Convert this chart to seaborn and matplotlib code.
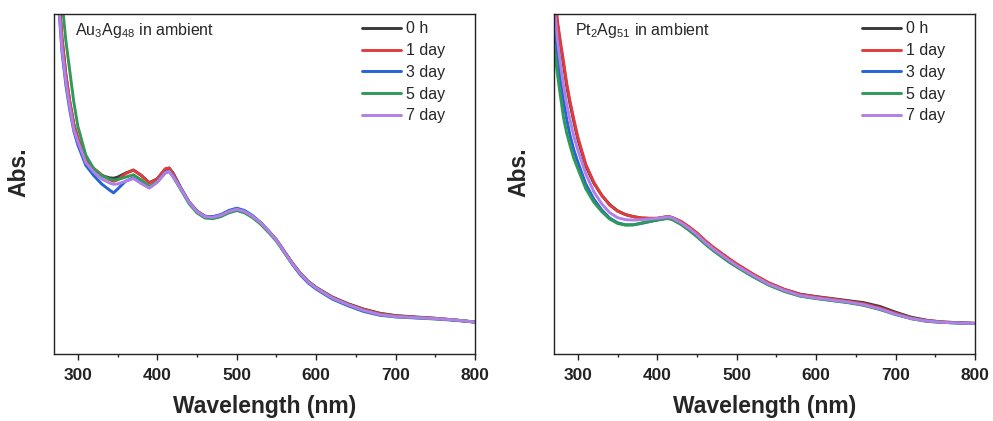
import numpy as np
import pandas as pd
import matplotlib
matplotlib.use("Agg")
import matplotlib.pyplot as plt
from matplotlib.ticker import MultipleLocator
import seaborn as sns

# ---------------- data ----------------
labels = ["0 h", "1 day", "3 day", "5 day", "7 day"]
colors = ["#3a3a3a", "#e23b3b", "#2563d9", "#2f9a58", "#b27fe6"]

wl_left = [272, 276, 280, 285, 290, 295, 300, 310, 320, 330, 340, 345, 350, 360,
           370, 380, 390, 400, 410, 415, 420, 430, 440, 450, 460, 470, 480, 490,
           500, 510, 520, 530, 540, 550, 560, 570, 580, 590, 600, 620, 640, 660,
           680, 700, 725, 750, 775, 800]

left_0h = [1.25, 1.06, 0.93, 0.82, 0.74, 0.675, 0.635, 0.572, 0.545, 0.525, 0.518, 0.517, 0.520, 0.532,
           0.541, 0.525, 0.504, 0.515, 0.543, 0.547, 0.532, 0.487, 0.447, 0.420, 0.405, 0.403, 0.409, 0.419,
           0.425, 0.418, 0.405, 0.386, 0.362, 0.336, 0.302, 0.268, 0.238, 0.214, 0.196, 0.168, 0.148, 0.132,
           0.120, 0.113, 0.109, 0.105, 0.100, 0.094]
left_1d = [1.25, 1.06, 0.93, 0.82, 0.74, 0.675, 0.635, 0.572, 0.546, 0.527, 0.513, 0.508, 0.512, 0.530,
           0.541, 0.525, 0.503, 0.515, 0.545, 0.547, 0.530, 0.487, 0.447, 0.420, 0.405, 0.403, 0.409, 0.419,
           0.425, 0.418, 0.405, 0.386, 0.362, 0.336, 0.301, 0.267, 0.237, 0.213, 0.195, 0.167, 0.147, 0.131,
           0.119, 0.112, 0.108, 0.105, 0.100, 0.094]
left_3d = [1.18, 1.02, 0.89, 0.79, 0.715, 0.655, 0.615, 0.555, 0.525, 0.500, 0.482, 0.474, 0.485, 0.508,
           0.518, 0.503, 0.489, 0.506, 0.534, 0.538, 0.523, 0.486, 0.447, 0.420, 0.405, 0.404, 0.410, 0.422,
           0.429, 0.422, 0.407, 0.387, 0.362, 0.334, 0.299, 0.264, 0.233, 0.209, 0.191, 0.162, 0.142, 0.125,
           0.114, 0.109, 0.106, 0.103, 0.099, 0.094]
left_5d = [1.40, 1.18, 1.04, 0.92, 0.83, 0.74, 0.67, 0.585, 0.545, 0.525, 0.514, 0.512, 0.513, 0.520,
           0.527, 0.512, 0.493, 0.507, 0.532, 0.537, 0.521, 0.482, 0.442, 0.415, 0.400, 0.398, 0.404, 0.415,
           0.422, 0.415, 0.401, 0.382, 0.358, 0.332, 0.298, 0.265, 0.235, 0.212, 0.194, 0.165, 0.145, 0.128,
           0.116, 0.110, 0.107, 0.104, 0.100, 0.094]
left_7d = [1.20, 1.03, 0.90, 0.80, 0.725, 0.66, 0.625, 0.563, 0.535, 0.515, 0.503, 0.499, 0.500, 0.508,
           0.516, 0.501, 0.488, 0.505, 0.533, 0.537, 0.522, 0.485, 0.446, 0.419, 0.404, 0.402, 0.408, 0.419,
           0.426, 0.419, 0.405, 0.386, 0.362, 0.335, 0.300, 0.266, 0.236, 0.212, 0.194, 0.165, 0.145, 0.128,
           0.116, 0.110, 0.107, 0.104, 0.100, 0.094]

wl_right = [270, 274, 278, 282, 286, 290, 295, 300, 310, 320, 330, 340, 350, 360, 370, 380,
            390, 400, 410, 415, 420, 430, 440, 450, 460, 470, 480, 490, 500, 520, 540, 560,
            580, 600, 620, 640, 660, 680, 700, 720, 740, 760, 780, 800]

right_0h = [1.10, 0.975, 0.91, 0.85, 0.788, 0.738, 0.683, 0.632, 0.553, 0.503, 0.467, 0.440, 0.421, 0.410, 0.404, 0.400,
            0.399, 0.399, 0.403, 0.404, 0.400, 0.389, 0.373, 0.355, 0.333, 0.314, 0.297, 0.280, 0.264, 0.235, 0.209, 0.190,
            0.176, 0.169, 0.163, 0.157, 0.151, 0.140, 0.123, 0.108, 0.099, 0.094, 0.092, 0.090]
right_1d = [1.12, 0.985, 0.92, 0.86, 0.796, 0.745, 0.69, 0.638, 0.558, 0.506, 0.467, 0.438, 0.420, 0.410, 0.404, 0.400,
            0.399, 0.399, 0.403, 0.404, 0.400, 0.390, 0.374, 0.356, 0.334, 0.315, 0.298, 0.281, 0.265, 0.236, 0.210, 0.190,
            0.175, 0.168, 0.162, 0.155, 0.148, 0.136, 0.120, 0.106, 0.098, 0.094, 0.092, 0.090]
right_3d = [0.98, 0.89, 0.81, 0.745, 0.69, 0.645, 0.60, 0.565, 0.500, 0.456, 0.424, 0.400, 0.386, 0.380, 0.380, 0.384,
            0.389, 0.394, 0.398, 0.399, 0.395, 0.382, 0.365, 0.346, 0.325, 0.306, 0.289, 0.272, 0.257, 0.229, 0.204, 0.185,
            0.171, 0.164, 0.158, 0.152, 0.144, 0.132, 0.117, 0.104, 0.096, 0.093, 0.091, 0.090]
right_5d = [0.91, 0.83, 0.76, 0.695, 0.65, 0.615, 0.575, 0.545, 0.486, 0.447, 0.419, 0.397, 0.384, 0.379, 0.380, 0.385,
            0.390, 0.394, 0.398, 0.398, 0.394, 0.381, 0.364, 0.345, 0.324, 0.305, 0.288, 0.271, 0.256, 0.228, 0.203, 0.184,
            0.170, 0.163, 0.157, 0.151, 0.143, 0.131, 0.116, 0.104, 0.096, 0.093, 0.091, 0.090]
right_7d = [1.03, 0.93, 0.855, 0.79, 0.735, 0.69, 0.64, 0.600, 0.530, 0.478, 0.442, 0.416, 0.401, 0.395, 0.394, 0.395,
            0.397, 0.399, 0.402, 0.403, 0.399, 0.386, 0.370, 0.351, 0.329, 0.310, 0.293, 0.276, 0.260, 0.232, 0.206, 0.187,
            0.172, 0.165, 0.159, 0.153, 0.145, 0.133, 0.117, 0.104, 0.097, 0.093, 0.091, 0.090]

left_series = [left_0h, left_1d, left_3d, left_5d, left_7d]
right_series = [right_0h, right_1d, right_3d, right_5d, right_7d]
titles = ["Au$_{\\mathregular{3}}$Ag$_{\\mathregular{48}}$ in ambient",
          "Pt$_{\\mathregular{2}}$Ag$_{\\mathregular{51}}$ in ambient"]

# ---------------- style ----------------
sns.set_style("ticks")
plt.rcParams["font.family"] = ["Liberation Sans", "DejaVu Sans"]
plt.rcParams["mathtext.fontset"] = "custom"
plt.rcParams["mathtext.rm"] = "Liberation Sans"
plt.rcParams["mathtext.it"] = "Liberation Sans:italic"
plt.rcParams["mathtext.bf"] = "Liberation Sans:bold"

fig = plt.figure(figsize=(9.93, 4.21), dpi=100)
W, H = 993, 421
axL = fig.add_axes([54 / W, (H - 354) / H, 421 / W, 340 / H])
axR = fig.add_axes([554 / W, (H - 354) / H, 421 / W, 340 / H])

for ax, wl, series, title in [(axL, wl_left, left_series, titles[0]),
                              (axR, wl_right, right_series, titles[1])]:
    frames = []
    for lab, vals in zip(labels, series):
        frames.append(pd.DataFrame({"wl": wl, "abs": vals, "time": lab}))
    df = pd.concat(frames, ignore_index=True)
    sns.lineplot(data=df, x="wl", y="abs", hue="time", hue_order=labels,
                 palette=colors, estimator=None, sort=False, lw=2.1, ax=ax)
    ax.set_xlim(270, 800)
    ax.set_ylim(0.0, 1.0)
    ax.xaxis.set_major_locator(MultipleLocator(100))
    ax.xaxis.set_minor_locator(MultipleLocator(50))
    ax.tick_params(axis="x", which="major", direction="out", length=4, width=1.0,
                   labelsize=12.5, pad=6, top=False, colors="#222222")
    ax.tick_params(axis="x", which="minor", direction="out", length=2.5, width=1.0, top=False)
    ax.set_yticks([])
    for t in ax.get_xticklabels():
        t.set_fontweight("bold")
    for sp in ax.spines.values():
        sp.set_visible(True)
        sp.set_linewidth(1.0)
        sp.set_color("#222222")
    ax.set_xlabel("Wavelength (nm)", fontsize=16.5, fontweight="bold", labelpad=9)
    ax.set_ylabel("Abs.", fontsize=16.5, fontweight="bold")
    ax.yaxis.set_label_coords(-0.056, 0.535)
    ax.text(0.049, 0.978, title, transform=ax.transAxes, fontsize=11.5,
            ha="left", va="top")
    leg = ax.legend(loc="upper right", bbox_to_anchor=(0.955, 1.011), frameon=False,
                    fontsize=11.5, handlelength=2.45, handletextpad=0.3,
                    labelspacing=0.42, borderaxespad=0.3)
    for line in leg.get_lines():
        line.set_linewidth(2.1)

fig.savefig("out.png", dpi=100)
